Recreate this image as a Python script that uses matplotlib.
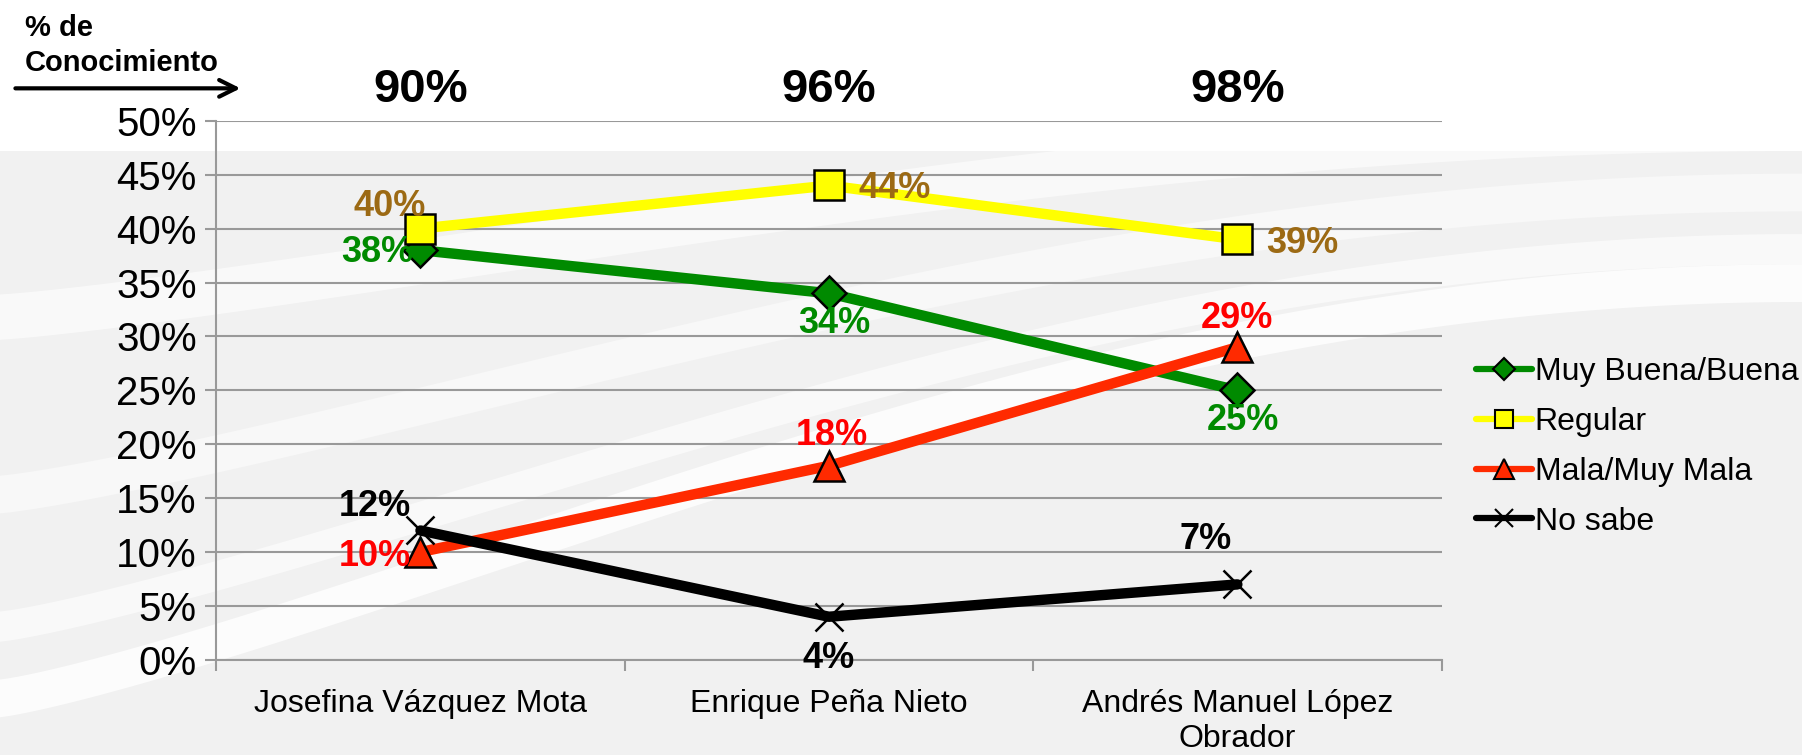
import numpy as np
import matplotlib.pyplot as plt
from matplotlib.patches import Rectangle, FancyArrowPatch

plt.rcParams['font.family'] = ['Liberation Sans', 'DejaVu Sans']

# data
candidates = ['Josefina Vázquez Mota', 'Enrique Peña Nieto', 'Andrés Manuel López\nObrador']
conocimiento = ['90%', '96%', '98%']
series_names = ['Muy Buena/Buena', 'Regular', 'Mala/Muy Mala', 'No sabe']
muy_buena = [38, 34, 25]
regular = [40, 44, 39]
mala = [10, 18, 29]
no_sabe = [12, 4, 7]


def main():
    fig = plt.figure(figsize=(18.02, 7.55), dpi=100)
    fig.patch.set_facecolor('#f1f1f1')

    # background: white header band and soft white swooshes
    fig.patches.append(Rectangle((0, 0.80), 1, 0.20, transform=fig.transFigure,
                                 facecolor='white', edgecolor='none', zorder=-10))
    t = np.linspace(0, 1, 200)
    for base, amp, width, alpha in [(0.05, 0.55, 0.05, 0.8), (0.15, 0.50, 0.04, 0.6),
                                    (0.32, 0.40, 0.05, 0.5), (0.55, 0.25, 0.06, 0.6)]:
        y = base + amp * np.sin(t * np.pi / 2) ** 1.2
        fig.patches.append(plt.Polygon(np.column_stack([np.r_[t, t[::-1]],
                                                        np.r_[y, (y + width)[::-1]]]),
                                       closed=True, transform=fig.transFigure,
                                       facecolor='white', edgecolor='none',
                                       alpha=alpha, zorder=-9))

    ax = fig.add_axes([0.120, 0.126, 0.680, 0.714])
    ax.set_facecolor('none')

    x = np.arange(len(candidates))
    styles = [
        (muy_buena, '#008a00', 'D', '#008a00', 17, 11),
        (regular, '#ffff00', 's', '#ffff00', 21, 13),
        (mala, '#ff2a00', '^', '#ff2a00', 22, 14),
        (no_sabe, '#000000', 'x', '#000000', 20, 13),
    ]
    for (vals, color, marker, mfc, ms, _), name in zip(styles, series_names):
        ax.plot(x, vals, color=color, lw=7.5, marker=marker, markersize=ms,
                markerfacecolor=mfc, markeredgecolor='black', markeredgewidth=1.8,
                label=name, solid_capstyle='round', zorder=3)

    # data labels
    label_specs = [
        (muy_buena, '#008a00', [(-5, -2, 'right'), (4, -22, 'center'), (4, -22, 'center')]),
        (regular, '#9c6a14', [(-22, 16, 'center'), (21, -2, 'left'), (21, -3, 'left')]),
        (mala, '#ff0000', [(-7, -3, 'right'), (2, 22, 'center'), (0, 21, 'center')]),
        (no_sabe, '#000000', [(-7, 17, 'right'), (0, -30, 'center'), (-23, 32, 'center')]),
    ]
    for vals, color, offs in label_specs:
        for xi, v, (dx, dy, ha) in zip(x, vals, offs):
            ax.annotate(f'{v}%', (xi, v), xytext=(dx, dy), textcoords='offset points',
                        ha=ha, va='center', fontsize=26, fontweight='bold',
                        color=color, zorder=5)

    # knowledge percentages above chart
    for xi, txt in zip(x, conocimiento):
        ax.text(xi, 1.058, txt, transform=ax.get_xaxis_transform(), ha='center',
                va='center', fontsize=34, fontweight='bold')

    fig.text(0.014, 0.898, '% de\nConocimiento', ha='left', va='bottom',
             fontsize=21, fontweight='bold', linespacing=1.3)
    fig.patches.append(FancyArrowPatch((0.007, 0.883), (0.135, 0.883),
                                       transform=fig.transFigure, arrowstyle='->',
                                       mutation_scale=30, lw=3, color='black'))

    ax.set_xlim(-0.5, 2.5)
    ax.set_ylim(0, 50)
    ax.set_yticks(range(0, 51, 5))
    ax.set_yticklabels([f'{v}%' for v in range(0, 51, 5)], fontsize=29)
    ax.set_xticks(x)
    ax.set_xticklabels(candidates, fontsize=23, linespacing=1.2)
    ax.set_xticks([-0.5, 0.5, 1.5, 2.5], minor=True)
    ax.tick_params(axis='x', which='major', length=0, pad=21)
    ax.tick_params(axis='x', which='minor', length=8, color='#999999', width=1.5)
    ax.tick_params(axis='y', length=8, color='#999999', width=1.5, pad=6)

    ax.grid(axis='y', color='#999999', lw=1.5, zorder=0)
    for s in ['top', 'right']:
        ax.spines[s].set_visible(False)
    for s in ['left', 'bottom']:
        ax.spines[s].set_color('#999999')
        ax.spines[s].set_linewidth(1.5)

    leg = fig.legend(loc='upper left', bbox_to_anchor=(0.803, 0.565), frameon=False,
                     fontsize=23, handlelength=1.75, handletextpad=0.1, labelspacing=0.62)
    # thinner lines and smaller markers in the legend
    for h, st in zip(leg.legend_handles, styles):
        h.set_linewidth(4.5)
        h.set_markersize(st[5])
        h.set_markeredgewidth(1.5)

    fig.savefig('out.png', dpi=100, facecolor=fig.get_facecolor())


if __name__ == '__main__':
    main()
